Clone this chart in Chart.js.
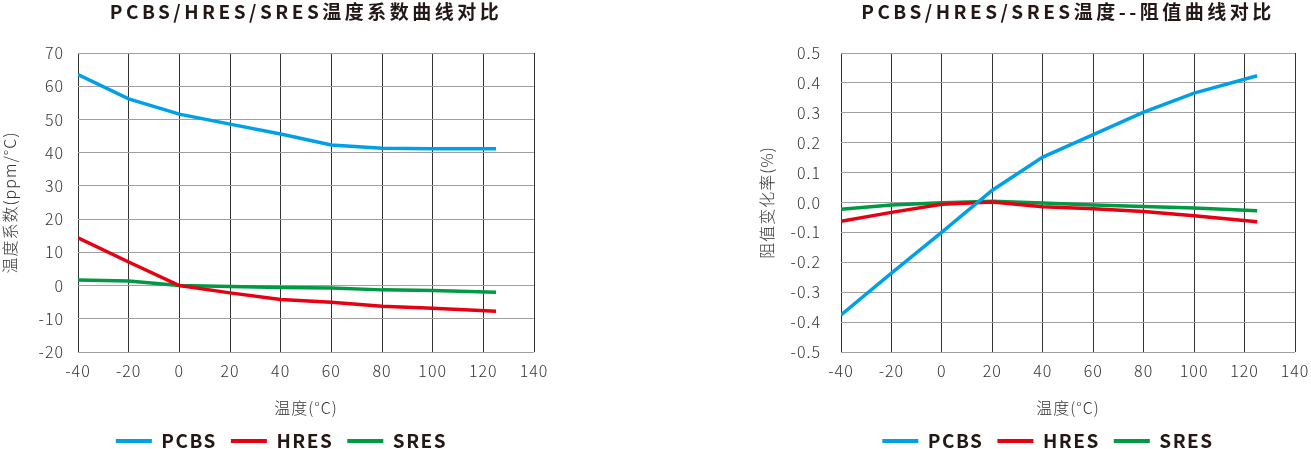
<!DOCTYPE html>
<html><head><meta charset="utf-8">
<script src="https://cdn.jsdelivr.net/npm/chart.js@4.4.1/dist/chart.umd.min.js"></script>
<style>
html,body{margin:0;padding:0;background:#fff;overflow:hidden;width:1311px;height:449px}
.w{position:absolute;top:0}
canvas{display:block}
</style></head><body>
<div class="w" style="left:0"><canvas id="c1" width="563" height="449"></canvas></div>
<div class="w" style="left:750px"><canvas id="c2" width="596" height="449"></canvas></div>
<script>
// ---- data ----
const temps = [-40, -20, 0, 20, 40, 60, 80, 100, 125];
const xTicks = [-40, -20, 0, 20, 40, 60, 80, 100, 120, 140];
const seriesNames = ['PCBS', 'HRES', 'SRES'];

const tcrPCBS = [63.5, 56.2, 51.6, 48.6, 45.6, 42.3, 41.3, 41.2, 41.2];
const tcrHRES = [14.4, 7.1, 0, -2.2, -4.2, -5.0, -6.2, -6.8, -7.7];
const tcrSRES = [1.7, 1.4, 0, -0.3, -0.6, -0.7, -1.3, -1.5, -2.0];
const tcrTicks = [-20, -10, 0, 10, 20, 30, 40, 50, 60, 70];

const drPCBS = [-0.376, -0.236, -0.099, 0.041, 0.152, 0.227, 0.302, 0.366, 0.424];
const drHRES = [-0.063, -0.033, -0.006, 0.002, -0.014, -0.021, -0.030, -0.044, -0.064];
const drSRES = [-0.023, -0.008, -0.001, 0.004, -0.002, -0.008, -0.013, -0.018, -0.028];
const drTicks = [-0.5, -0.4, -0.3, -0.2, -0.1, 0, 0.1, 0.2, 0.3, 0.4, 0.5];

const titles = ['PCBS/HRES/SRES温度系数曲线对比', 'PCBS/HRES/SRES温度--阻值曲线对比'];
const yTitles = ['温度系数(ppm/°C)', '阻值变化率(%)'];
const xTitle = '温度(°C)';

// ---- styles ----
const colors = ['#00a0e9', '#e60012', '#009944'];
const FONT = "'Noto Sans CJK SC', 'Noto Sans', sans-serif";

function spaced(obj, names, sp) {
  if (!obj || obj._spaced) return;
  obj._spaced = true;
  names.forEach(n => {
    const orig = obj[n];
    if (typeof orig !== 'function') return;
    obj[n] = function (...a) {
      const ctx = this.ctx;
      const prev = ctx.letterSpacing;
      ctx.letterSpacing = sp;
      try { return orig.apply(this, a); } finally { ctx.letterSpacing = prev; }
    };
  });
}
const spacingPlugin = {
  id: 'spacing',
  afterInit(chart) {
    spaced(chart.titleBlock, ['draw'], '3.5px');
    spaced(chart.legend, ['update', 'fit', 'draw'], '1.5px');
  },
  beforeUpdate(chart) {
    chart.ctx.letterSpacing = '1px';
    spaced(chart.titleBlock, ['draw'], '3.5px');
    spaced(chart.legend, ['update', 'fit', 'draw'], '1.5px');
  },
  beforeDraw(chart) { chart.ctx.letterSpacing = '1px'; }
};

function makeChart(id, cfg) {
  return new Chart(document.getElementById(id), {
    type: 'line',
    data: {
      datasets: seriesNames.map((n, i) => ({
        label: n,
        data: temps.map((t, j) => ({ x: t, y: cfg.series[i][j] })),
        borderColor: colors[i],
        backgroundColor: colors[i],
        borderWidth: 3.5,
        pointRadius: 0,
        pointHoverRadius: 0,
        tension: 0,
        fill: false
      }))
    },
    options: {
      responsive: false,
      animation: false,
      devicePixelRatio: 1,
      layout: { padding: 0 },
      plugins: {
        title: {
          display: true, text: cfg.title, fullSize: false, color: '#231815',
          font: { family: FONT, size: 19, weight: 'bold', lineHeight: 1.2 },
          padding: { top: 0.6, bottom: 29.6 }
        },
        legend: {
          position: 'bottom', fullSize: true, maxHeight: 31.4,
          labels: {
            color: '#231815',
            font: { family: FONT, size: 19, weight: 'bold' },
            boxWidth: 36, boxHeight: 4, padding: 14,
            generateLabels(chart) {
              return Chart.defaults.plugins.legend.labels.generateLabels(chart)
                .map(l => Object.assign(l, { lineWidth: 0, fillStyle: l.strokeStyle }));
            }
          }
        },
        tooltip: { enabled: false }
      },
      scales: {
        x: {
          type: 'linear', min: -40, max: 140,
          afterBuildTicks: s => { s.ticks = xTicks.map(v => ({ value: v })); },
          grid: { color: '#333333', lineWidth: 1, drawTicks: false },
          border: { display: false },
          ticks: { color: '#333333', font: { family: FONT, size: 16, weight: 300 }, padding: 9, maxRotation: 0, autoSkip: false },
          title: {
            display: true, text: xTitle, color: '#333333',
            font: { family: FONT, size: 16, weight: 300, lineHeight: 1.2 }, padding: { top: 0, bottom: 0 }
          },
          afterFit: s => { s.height = 65.6; }
        },
        y: {
          type: 'linear', position: 'left', min: cfg.yMin, max: cfg.yMax,
          afterBuildTicks: s => { s.ticks = cfg.yTicks.map(v => ({ value: v })); },
          grid: { color: '#a0a0a0', lineWidth: 1, drawTicks: false },
          border: { display: false },
          ticks: { color: '#333333', font: { family: FONT, size: 16, weight: 300 }, padding: cfg.yPad, autoSkip: false, callback: cfg.fmt },
          title: {
            display: true, text: cfg.yTitle, color: '#333333',
            font: { family: FONT, size: 16, weight: 300, lineHeight: 1.2 }, padding: { top: cfg.yTitlePad, bottom: 0 }
          },
          afterFit: s => { s.width = cfg.yWidth; }
        },
        pad: {
          type: 'linear', position: 'right', display: true,
          grid: { display: false }, ticks: { display: false }, border: { display: false },
          afterFit: s => { s.width = cfg.padWidth; }
        }
      }
    },
    plugins: [spacingPlugin]
  });
}

makeChart('c1', {
  title: titles[0], yTitle: yTitles[0],
  series: [tcrPCBS, tcrHRES, tcrSRES],
  yMin: -20, yMax: 70, yTicks: tcrTicks,
  fmt: v => String(v),
  yPad: 14, yTitlePad: 0, yWidth: 78, padWidth: 29
});
makeChart('c2', {
  title: titles[1], yTitle: yTitles[1],
  series: [drPCBS, drHRES, drSRES],
  yMin: -0.5, yMax: 0.5, yTicks: drTicks,
  fmt: v => (Math.abs(v) < 1e-9 ? 0 : v).toFixed(1),
  yPad: 20, yTitlePad: 6.9, yWidth: 91, padWidth: 51
});
</script>
</body></html>
